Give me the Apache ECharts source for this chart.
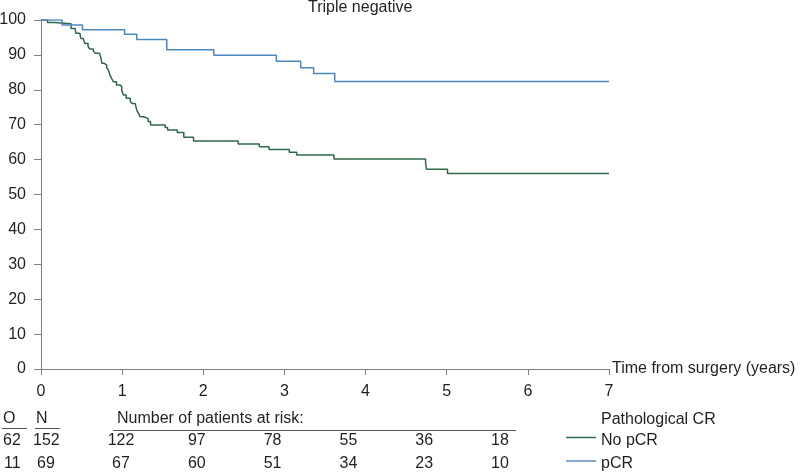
<!DOCTYPE html>
<html>
<head>
<meta charset="utf-8">
<script src="https://cdn.jsdelivr.net/npm/echarts@6/dist/echarts.min.js"></script>
<style>
html,body{margin:0;padding:0;background:#fff;}
#chart{width:800px;height:475px;}
</style>
</head>
<body>
<div id="chart"></div>
<script>
// ---- data ----
const titleText = 'Triple negative';
const xTicks = [0, 1, 2, 3, 4, 5, 6, 7];
const yTicks = [0, 10, 20, 30, 40, 50, 60, 70, 80, 90, 100];
const seriesNames = ['No pCR', 'pCR'];
// Kaplan-Meier steps: [time (years), survival (%) after the drop]
const noPcrTimes = [0, 0.08, 0.17, 0.37, 0.42, 0.43, 0.48, 0.49, 0.52, 0.54, 0.58, 0.60, 0.645, 0.665, 0.72, 0.74, 0.75, 0.78, 0.81, 0.83, 0.85, 0.87, 0.89, 0.93, 0.97, 0.995, 1.015, 1.05, 1.10, 1.12, 1.16, 1.18, 1.20, 1.22, 1.26, 1.32, 1.35, 1.53, 1.56, 1.68, 1.76, 1.88, 2.43, 2.69, 2.81, 3.06, 3.15, 3.61, 4.74, 4.75, 5.01, 7.0];
const noPcrValues = [100, 99.3, 98.9, 97.6, 97.1, 96.2, 95.7, 94.7, 94.3, 93.3, 92.4, 91.7, 91.1, 90.5, 90.0, 89.0, 87.6, 87.1, 86.3, 85.7, 84.2, 83.3, 82.3, 81.4, 80.9, 79.9, 78.5, 77.6, 76.8, 76.1, 75.6, 74.2, 73.3, 72.3, 71.8, 70.9, 69.9, 69.2, 68.5, 67.8, 66.4, 65.3, 64.5, 63.7, 62.9, 62.1, 61.3, 60.2, 58.9, 57.2, 56.0, 56.0];
const pcrTimes = [0, 0.26, 0.51, 1.03, 1.18, 1.55, 2.13, 2.90, 3.20, 3.36, 3.62, 7.0];
const pcrValues = [100, 98.6, 97.2, 95.9, 94.4, 91.5, 89.9, 88.2, 86.3, 84.7, 82.4, 82.4];
// risk table
const observed = ['62', '11'];
const totals = ['152', '69'];
const atRiskNoPcr = [122, 97, 78, 55, 36, 18];
const atRiskPcr = [67, 60, 51, 34, 23, 10];
const xAxisName = 'Time from surgery (years)';
const riskHeader = 'Number of patients at risk:';
const legendTitle = 'Pathological CR';

// ---- styles / layout ----
const FONT = '"Liberation Sans", Arial, Helvetica, sans-serif';
const TXT = '#231f20';
const AXIS = '#808080';
const GREEN = '#2e6a48';
const BLUE = '#4d87c0';
const LEGEND_BLUE = '#86a8cc';

function pairs(ts, vs) { return ts.map((t, i) => [t, vs[i]]); }

const chart = echarts.init(document.getElementById('chart'), null, {renderer: 'canvas'});

const graphics = [];
function txt(x, y, s, align) {
  graphics.push({type: 'text', x: x, y: y, style: {text: String(s), fill: TXT, font: '16px ' + FONT, textAlign: align || 'left', textVerticalAlign: 'middle'}});
}
function hline(x1, x2, y, color, w) {
  graphics.push({type: 'line', shape: {x1: x1, y1: y, x2: x2, y2: y}, style: {stroke: color, lineWidth: w || 1}});
}
// O / N columns
txt(3, 419, 'O');
txt(36, 419, 'N');
hline(2, 27, 428.5, '#555');
hline(35, 60, 428.5, '#555');
txt(3, 441, observed[0]);
txt(33, 441, totals[0]);
txt(4, 464, observed[1]);
txt(37, 464, totals[1]);
// at-risk header
txt(117, 419, riskHeader);
hline(113, 516, 430.5, '#555');
const riskX0 = 121, riskStep = 75.8;
atRiskNoPcr.forEach((v, i) => txt(riskX0 + i * riskStep, 441, v, 'center'));
atRiskPcr.forEach((v, i) => txt(riskX0 + i * riskStep, 464, v, 'center'));
// legend
txt(601, 420, legendTitle);
hline(566, 596, 437.5, GREEN, 1.5);
txt(601, 441, seriesNames[0]);
hline(566, 596, 461, LEGEND_BLUE, 2);
txt(601, 464, seriesNames[1]);

const option = {
  animation: false,
  backgroundColor: '#fff',
  title: {
    text: titleText, left: 308, top: 0, padding: 0,
    textStyle: {fontFamily: FONT, fontSize: 16, fontWeight: 'normal', color: TXT}
  },
  grid: {left: 41, right: 191, top: 20, bottom: 106, containLabel: false, outerBoundsMode: 'none'},
  xAxis: {
    type: 'value', min: xTicks[0], max: xTicks[xTicks.length - 1], interval: 1,
    name: xAxisName, nameLocation: 'end', nameGap: 3,
    nameTextStyle: {fontFamily: FONT, fontSize: 16, color: TXT, padding: [0, 0, 3, 0]},
    axisLine: {lineStyle: {color: AXIS, width: 1}},
    axisTick: {length: 6, lineStyle: {color: AXIS}},
    axisLabel: {fontFamily: FONT, fontSize: 16, color: TXT, margin: 15},
    splitLine: {show: false}
  },
  yAxis: {
    type: 'value', min: yTicks[0], max: yTicks[yTicks.length - 1], interval: 10,
    axisLine: {show: true, lineStyle: {color: AXIS, width: 1}},
    axisTick: {show: true, length: 7, lineStyle: {color: AXIS}},
    axisLabel: {fontFamily: FONT, fontSize: 16, color: TXT, margin: 15},
    splitLine: {show: false}
  },
  series: [
    {name: seriesNames[0], type: 'line', step: 'end', showSymbol: false, symbol: 'none',
     data: pairs(noPcrTimes, noPcrValues), color: GREEN, lineStyle: {width: 1.5, color: GREEN}},
    {name: seriesNames[1], type: 'line', step: 'end', showSymbol: false, symbol: 'none',
     data: pairs(pcrTimes, pcrValues), color: BLUE, lineStyle: {width: 1.5, color: BLUE}}
  ],
  graphic: graphics
};
chart.setOption(option);
</script>
</body>
</html>
